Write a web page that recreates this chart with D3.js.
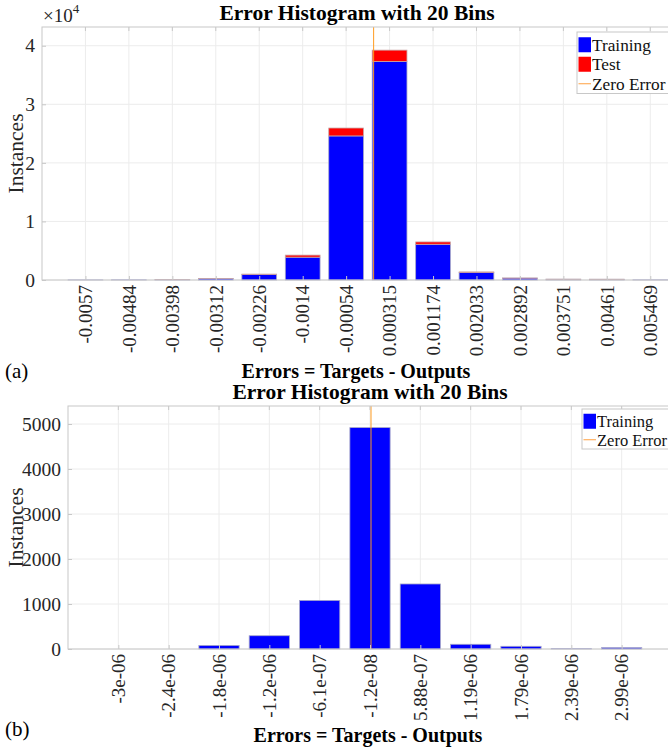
<!DOCTYPE html>
<html>
<head>
<meta charset="utf-8">
<script src="https://cdn.jsdelivr.net/npm/d3@7"></script>
<style>
  body { margin: 0; background: #fff; }
  svg { display: block; font-family: "Liberation Serif", "Times New Roman", serif; }
</style>
</head>
<body>
<svg id="chart" width="668" height="754"></svg>
<script>
// panel (a): 20-bin error histogram, training + test
const binsA = ["-0.0057", "-0.00484", "-0.00398", "-0.00312", "-0.00226", "-0.0014", "-0.00054",
    "0.000315", "0.001174", "0.002033", "0.002892", "0.003751", "0.00461", "0.005469"];
const trainingA = [15, 25, 60, 250, 950, 3900, 24600, 37300, 6100, 1300, 320, 130, 120, 20];
const testA = [0, 0, 5, 20, 60, 350, 1350, 1950, 400, 80, 20, 10, 10, 0];
const yTicksA = [0, 10000, 20000, 30000, 40000];

// panel (b): training only
const binsB = ["-3e-06", "-2.4e-06", "-1.8e-06", "-1.2e-06", "-6.1e-07", "-1.2e-08", "5.88e-07",
    "1.19e-06", "1.79e-06", "2.39e-06", "2.99e-06"];
const trainingB = [0, 0, 80, 295, 1080, 4920, 1445, 105, 60, 8, 30];
const yTicksB = [0, 1000, 2000, 3000, 4000, 5000];

const svg = d3.select("#chart");

const drawPanel = (cfg) => {
    const g = svg.append("g");
    const n = cfg.bins.length;

    let x = d3.scaleLinear()
        .domain([0, cfg.xMax])
        .range([cfg.left, cfg.right]);

    let y = d3.scaleLinear()
        .domain([0, cfg.yMax])
        .range([cfg.bottom, cfg.top]);

    const idx = d3.range(1, n + 1);
    const step = x(1) - x(0);
    const barW = step * 0.8;

    // grid
    g.selectAll(".vgrid")
        .data(idx)
        .enter()
        .append("line")
        .attr("x1", d => x(d)).attr("x2", d => x(d))
        .attr("y1", cfg.top).attr("y2", cfg.bottom)
        .attr("stroke", "#ececec");

    g.selectAll(".hgrid")
        .data(cfg.yTicks)
        .enter()
        .append("line")
        .attr("x1", cfg.left).attr("x2", cfg.right)
        .attr("y1", d => y(d)).attr("y2", d => y(d))
        .attr("stroke", "#ececec");

    // stacked bars
    const stacked = idx.map((d, i) => ({
        i: d,
        train: cfg.training[i],
        test: cfg.test ? cfg.test[i] : 0
    }));

    g.selectAll(".train")
        .data(stacked)
        .enter()
        .append("rect")
        .attr("x", d => x(d.i) - barW / 2)
        .attr("width", barW)
        .attr("y", d => y(d.train))
        .attr("height", d => cfg.bottom - y(d.train))
        .attr("fill", "#0000ff")
        .attr("stroke", "#a8a8c8")
        .attr("stroke-width", 0.8);

    if (cfg.test) {
        g.selectAll(".test")
            .data(stacked.filter(d => d.test > 0))
            .enter()
            .append("rect")
            .attr("x", d => x(d.i) - barW / 2)
            .attr("width", barW)
            .attr("y", d => y(d.train + d.test))
            .attr("height", d => y(d.train) - y(d.train + d.test))
            .attr("fill", "#ff0000")
            .attr("stroke", "#c8a8a8")
            .attr("stroke-width", 0.8);
    }

    // zero error line, placed by interpolating between bin centres
    const zeroPos = d3.scaleLinear()
        .domain(cfg.bins.map(Number))
        .range(idx)(0);
    g.append("line")
        .attr("x1", x(zeroPos)).attr("x2", x(zeroPos))
        .attr("y1", cfg.top).attr("y2", cfg.bottom)
        .attr("stroke", "#ff9a1f")
        .attr("stroke-opacity", 0.9)
        .attr("stroke-width", 1.1);

    // axes box
    g.append("rect")
        .attr("x", cfg.left).attr("y", cfg.top)
        .attr("width", cfg.right - cfg.left).attr("height", cfg.bottom - cfg.top)
        .attr("fill", "none")
        .attr("stroke", "#c8c8c8");

    // y axis
    g.append("g")
        .attr("transform", "translate(" + cfg.left + ",0)")
        .call(d3.axisLeft(y).tickValues(cfg.yTicks).tickSize(-4).tickPadding(7).tickFormat(cfg.yFormat))
        .call(a => a.select(".domain").remove())
        .call(a => a.selectAll("line").attr("stroke", "#c8c8c8"))
        .call(a => a.selectAll("text")
            .attr("font-size", "19.5px")
            .attr("font-family", "Liberation Serif")
            .attr("fill", "#262626"));

    // x axis with rotated bin labels
    g.append("g")
        .attr("transform", "translate(0," + cfg.bottom + ")")
        .call(d3.axisBottom(x).tickValues(idx).tickSize(-4).tickFormat(d => cfg.bins[d - 1]))
        .call(a => a.select(".domain").remove())
        .call(a => a.selectAll("line").attr("stroke", "#c8c8c8"))
        .call(a => a.selectAll("text")
            .attr("font-size", "19px")
            .attr("font-family", "Liberation Serif")
            .attr("fill", "#262626")
            .attr("transform", "rotate(-90)")
            .attr("x", -5)
            .attr("y", 0)
            .attr("dy", "0.33em")
            .style("text-anchor", "end"));

    // top ticks
    g.selectAll(".ttick")
        .data(idx)
        .enter()
        .append("line")
        .attr("x1", d => x(d)).attr("x2", d => x(d))
        .attr("y1", cfg.top).attr("y2", cfg.top + 4)
        .attr("stroke", "#c8c8c8");

    // labels
    g.append("text")
        .attr("transform", "translate(" + cfg.ylabX + "," + ((cfg.top + cfg.bottom) / 2) + ") rotate(-90)")
        .attr("dy", "0.35em")
        .attr("font-size", "21.5px")
        .attr("fill", "#262626")
        .style("text-anchor", "middle")
        .text("Instances");

    g.append("text")
        .attr("x", cfg.titleX)
        .attr("y", cfg.top - 7)
        .attr("font-size", "21.5px")
        .attr("font-weight", "bold")
        .style("text-anchor", "middle")
        .text("Error Histogram with 20 Bins");

    g.append("text")
        .attr("x", cfg.xlabX)
        .attr("y", cfg.xlabY)
        .attr("font-size", "20px")
        .attr("font-weight", "bold")
        .style("text-anchor", "middle")
        .text("Errors = Targets - Outputs");

    g.append("text")
        .attr("x", 5)
        .attr("y", cfg.tagY)
        .attr("font-size", "21px")
        .text(cfg.tag);

    // legend
    const lg = g.append("g").attr("transform", "translate(" + cfg.legX + "," + cfg.legY + ")");
    const entries = cfg.legend;
    lg.append("rect")
        .attr("x", 0).attr("y", 0)
        .attr("width", 110).attr("height", entries.length * cfg.legStep + 3)
        .attr("fill", "#fff")
        .attr("stroke", "#c8c8c8");
    entries.forEach((e, i) => {
        const cy = 3 + i * cfg.legStep + cfg.legStep / 2;
        if (e.type === "rect") {
            lg.append("rect")
                .attr("x", 1.5).attr("y", cy - 7.5)
                .attr("width", 12.5).attr("height", 15)
                .attr("fill", e.color);
        } else {
            lg.append("line")
                .attr("x1", 1.5).attr("x2", 14)
                .attr("y1", cy).attr("y2", cy)
                .attr("stroke", e.color);
        }
        lg.append("text")
            .attr("x", 15)
            .attr("y", cy)
            .attr("dy", "0.35em")
            .attr("font-size", cfg.legFont)
            .attr("fill", "#111")
            .text(e.name);
    });
};

drawPanel({
    bins: binsA, training: trainingA, test: testA, yTicks: yTicksA,
    xMax: 14.5, yMax: 43200,
    left: 42, right: 672, top: 27, bottom: 280,
    yFormat: d => d / 10000,
    titleX: 357, xlabX: 356,
    ylabX: 15, xlabY: 378, tag: "(a)", tagY: 378,
    legX: 577, legY: 32, legStep: 19.5, legFont: "17.3px",
    legend: [
        { name: "Training", color: "#0000ff", type: "rect" },
        { name: "Test", color: "#ff0000", type: "rect" },
        { name: "Zero Error", color: "#ffa040", type: "line" }
    ]
});

// exponent label for panel (a)
const expo = svg.append("text")
    .attr("x", 43)
    .attr("y", 22)
    .attr("font-size", "19px")
    .attr("fill", "#262626");
expo.append("tspan").text("\u00d710");
expo.append("tspan").attr("dy", -9).attr("font-size", "13px").text("4");

drawPanel({
    bins: binsB, training: trainingB, test: null, yTicks: yTicksB,
    xMax: 12, yMax: 5400,
    left: 68, right: 672, top: 406, bottom: 649,
    yFormat: d3.format("d"),
    titleX: 370, xlabX: 368,
    ylabX: 15, xlabY: 742, tag: "(b)", tagY: 736,
    legX: 582, legY: 409, legStep: 18.5, legFont: "16.5px",
    legend: [
        { name: "Training", color: "#0000ff", type: "rect" },
        { name: "Zero Error", color: "#ffa040", type: "line" }
    ]
});
</script>
</body>
</html>
